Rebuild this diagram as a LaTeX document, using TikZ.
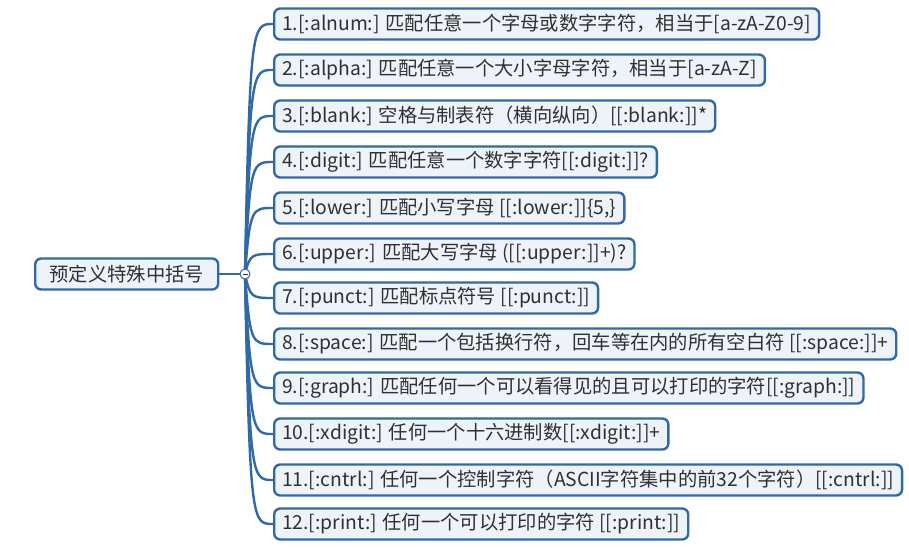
\documentclass[tikz,border=0pt]{standalone}
\usepackage{fontspec}
\setmainfont{Noto Sans CJK SC}
\usetikzlibrary{calc}
\definecolor{mapblue}{HTML}{2F69A8}
\definecolor{mapfill}{HTML}{EEF3FA}
\definecolor{maptext}{HTML}{303030}
\tikzset{
  topic/.style={draw=mapblue, line width=2.4pt, fill=mapfill, rounded corners=6pt,
    minimum height=31pt, inner xsep=8pt, inner ysep=2pt, anchor=west, text=maptext, font=\fontsize{19.3}{21}\selectfont},
  branch/.style={draw=mapblue, line width=2.4pt}
}
\begin{document}
\begin{tikzpicture}[x=1pt,y=-1pt]
				\useasboundingbox (0,0) rectangle (909,548);
				% root topic
				\node (root) [topic, minimum width=183pt] at (34,274) {预定义特殊中括号};
				\coordinate (fold) at (245,274);
				\draw [branch] (root.east) -- (fold);
				% children
				\foreach \i/\y/\txt in {
					1/24/{1.[:alnum:] 匹配任意一个字母或数字字符，相当于[a-zA-Z0-9]},
					2/70/{2.[:alpha:] 匹配任意一个大小字母字符，相当于[a-zA-Z]},
					3/116/{3.[:blank:] 空格与制表符（横向纵向）[[:blank:]]*},
					4/162/{4.[:digit:] 匹配任意一个数字字符[[:digit:]]?},
					5/208/{5.[:lower:] 匹配小写字母 [[:lower:]]\{5,\}},
					6/254/{6.[:upper:] 匹配大写字母 ([[:upper:]]+)?},
					7/298/{7.[:punct:] 匹配标点符号 [[:punct:]]},
					8/344/{8.[:space:] 匹配一个包括换行符，回车等在内的所有空白符 [[:space:]]+},
					9/388/{9.[:graph:] 匹配任何一个可以看得见的且可以打印的字符[[:graph:]]},
					10/434/{10.[:xdigit:] 任何一个十六进制数[[:xdigit:]]+},
					11/480/{11.[:cntrl:] 任何一个控制字符（ASCII字符集中的前32个字符）[[:cntrl:]]},
					12/524/{12.[:print:] 任何一个可以打印的字符 [[:print:]]}} {
					\node (item\i) [topic] at (273,\y) {\txt};
					\draw [branch] (fold) .. controls (250,\y) and (252,\y) .. (item\i.west);
				}
				\draw [mapblue, fill=white, line width=1pt] (fold) circle (5pt);
				\draw [maptext, line width=0.8pt] ($(fold)+(-2.5,0)$) -- ($(fold)+(2.5,0)$);
\end{tikzpicture}
\end{document}
